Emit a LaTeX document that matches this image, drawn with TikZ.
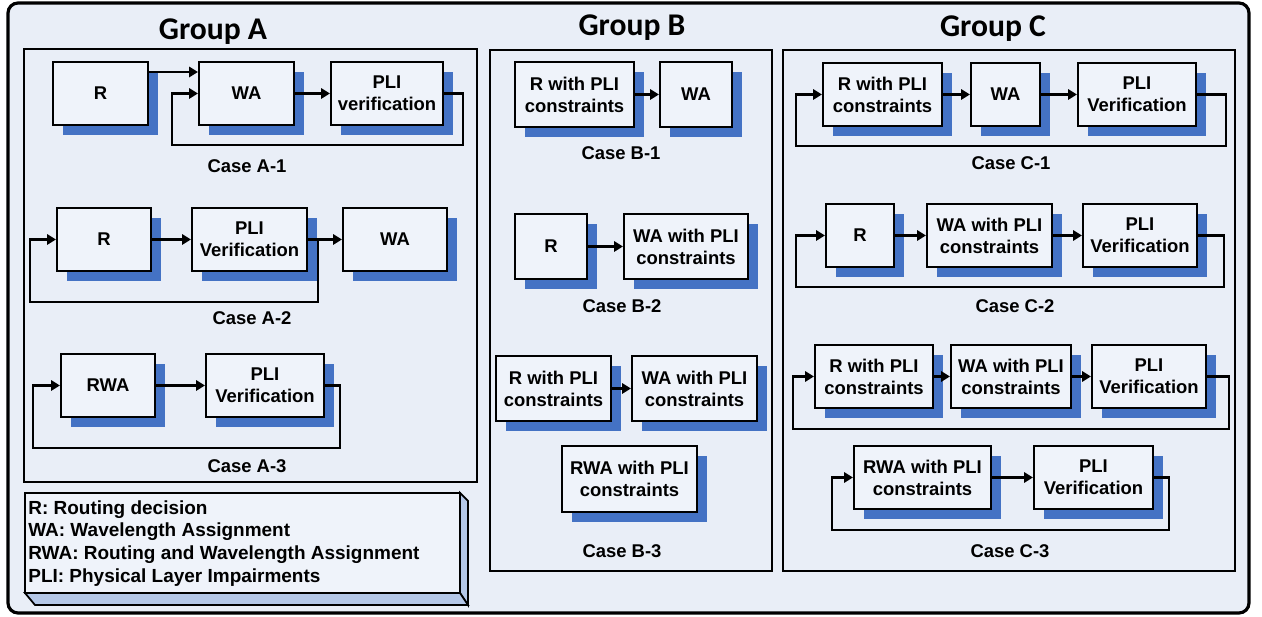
\documentclass[tikz,border=0pt]{standalone}
\usepackage{fontspec}
\setmainfont{Liberation Sans}
\newfontfamily\titlefont{Carlito}
\usetikzlibrary{arrows.meta,calc,shadows}

\definecolor{bgblue}{HTML}{E9EEF7}
\definecolor{boxfill}{HTML}{EFF3FA}
\definecolor{shadowblue}{HTML}{4472C4}
\definecolor{sideblue}{HTML}{B4C7E7}

\begin{document}
\begin{tikzpicture}[x=.02cm,y=-.02cm,
    blk/.style={draw,line width=1.2pt,fill=boxfill,inner sep=0pt,
      minimum height=1.26cm,align=center,
      font=\fontsize{10.5}{12.5}\selectfont\bfseries,
      drop shadow={shadow xshift=.2cm,shadow yshift=-.2cm,
        fill=shadowblue,opacity=1}},
    panel/.style={draw,line width=1.2pt},
    case/.style={anchor=base,inner sep=0pt,
      font=\fontsize{10.5}{12}\selectfont\bfseries},
    grp/.style={anchor=base,inner sep=0pt,
      font=\titlefont\fontsize{18}{20}\selectfont\bfseries},
    legend/.style={anchor=base west,inner sep=0pt,
      font=\fontsize{10.8}{13}\selectfont\bfseries},
    arr/.style={line width=1.4pt,-{Triangle[length=5pt,width=5.8pt]}}]

  \useasboundingbox (0,0) rectangle (1262,617);
  \draw[line width=1.8pt,fill=bgblue,rounded corners=.2cm]
    (8,3) rectangle (1249,613);

  % group frames
  \draw[panel] (24,49) rectangle (477,482);
  \draw[panel] (490,50) rectangle (772,571);
  \draw[panel] (783,50) rectangle (1235,571);

  \node[grp] (GA) at (213,40) {Group A};
  \node[grp] (GB) at (632,36) {Group B};
  \node[grp] (GC) at (993,37) {Group C};

  % Group A
  \node[blk,minimum width=1.9cm] (rA1) at (100.5,93.5) {R};
  \node[blk,minimum width=1.9cm] (waA1) at (246.5,93.5) {WA};
  \node[blk,minimum width=2.24cm] (pvA1) at (387,93.5) {PLI\\verification};
  \node[case] (cA1) at (247,173) {Case A-1};

  \draw[arr] ([yshift=.43cm]rA1.east) -- ([yshift=.43cm]waA1.west);
  \draw[arr] (waA1) -- (pvA1);
  \draw[arr] (pvA1.east) -| ++(19,51.5) -| ($(waA1.west)+(-26,0)$) -- (waA1.west);

  \node[blk,minimum width=1.88cm] (rA2) at (104,239.5) {R};
  \node[blk,minimum width=2.3cm] (pvA2) at (249.5,239.5) {PLI\\Verification};
  \node[blk,minimum width=2.08cm] (waA2) at (395,239.5) {WA};
  \node[case] (cA2) at (252,325) {Case A-2};

  \draw[arr] (rA2) -- (pvA2);
  \draw[arr] (pvA2) -- (waA2);
  \draw[arr] (pvA2.east) -- ++(10,0) -- ++(0,62.5) -| ($(rA2.west)+(-26,0)$) -- (rA2.west);

  \node[blk,minimum width=1.88cm] (rwaA3) at (108,385.5) {RWA};
  \node[blk,minimum width=2.36cm] (pvA3) at (265,385.5) {PLI\\Verification};
  \node[case] (cA3) at (247,473) {Case A-3};

  \draw[arr] (rwaA3) -- (pvA3);
  \draw[arr] (pvA3.east) -| ++(15,62.5) -| ($(rwaA3.west)+(-27,0)$) -- (rwaA3.west);

  % legend
  \draw[fill=sideblue,line width=1pt] (460,493) -- (468,501) -- (468,605) -- (460,593) -- cycle;
  \draw[fill=sideblue,line width=1pt] (25,593) -- (460,593) -- (468,605) -- (35,605) -- cycle;
  \draw[fill=boxfill,line width=1.2pt] (25,493) rectangle (460,593);
  \node[legend] (L1) at (28,515) {R: Routing decision};
  \node[legend] (L2) at (28,537) {WA: Wavelength Assignment};
  \node[legend] (L3) at (28,560) {RWA: Routing and Wavelength Assignment};
  \node[legend] (L4) at (28,583) {PLI: Physical Layer Impairments};

  % Group B
  \node[blk,minimum width=2.38cm,minimum height=1.3cm] (rB1) at (574.5,94.5) {R with PLI\\constraints};
  \node[blk,minimum width=1.44cm,minimum height=1.3cm] (waB1) at (696,94.5) {WA};
  \node[case] (cB1) at (621,160) {Case B-1};
  \draw[arr] (rB1) -- (waB1);

  \node[blk,minimum width=1.44cm,minimum height=1.3cm] (rB2) at (551,246.5) {R};
  \node[blk,minimum width=2.48cm,minimum height=1.3cm] (waB2) at (686,246.5) {WA with PLI\\constraints};
  \node[case] (cB2) at (622,313) {Case B-2};
  \draw[arr] (rB2) -- (waB2);

  \node[blk,minimum width=2.3cm,minimum height=1.3cm] (rB3) at (553.5,388.5) {R with PLI\\constraints};
  \node[blk,minimum width=2.5cm,minimum height=1.3cm] (waB3) at (694.5,388.5) {WA with PLI\\constraints};
  \node[blk,minimum width=2.7cm,minimum height=1.32cm] (rwaB3) at (629.5,479) {RWA with PLI\\constraints};
  \node[case] (cB3) at (622,558) {Case B-3};
  \draw[arr] (rB3) -- (waB3);

  % Group C
  \node[blk,minimum width=2.38cm] (rC1) at (882.5,94.5) {R with PLI\\constraints};
  \node[blk,minimum width=1.38cm] (waC1) at (1005.5,94.5) {WA};
  \node[blk,minimum width=2.36cm] (pvC1) at (1137,94.5) {PLI\\Verification};
  \node[case] (cC1) at (1011,170) {Case C-1};

  \draw[arr] (rC1) -- (waC1);
  \draw[arr] (waC1) -- (pvC1);
  \draw[arr] (pvC1.east) -| ++(29,51.5) -| ($(rC1.west)+(-26,0)$) -- (rC1.west);

  \node[blk,minimum width=1.36cm] (rC2) at (860,235.5) {R};
  \node[blk,minimum width=2.5cm] (waC2) at (989.5,235.5) {WA with PLI\\constraints};
  \node[blk,minimum width=2.28cm] (pvC2) at (1140,235.5) {PLI\\Verification};
  \node[case] (cC2) at (1015,313) {Case C-2};

  \draw[arr] (rC2) -- (waC2);
  \draw[arr] (waC2) -- (pvC2);
  \draw[arr] (pvC2.east) -| ++(26,51.5) -| ($(rC2.west)+(-29,0)$) -- (rC2.west);

  \node[blk,minimum width=2.36cm] (rC3) at (874,376.5) {R with PLI\\constraints};
  \node[blk,minimum width=2.4cm] (waC3) at (1011,376.5) {WA with PLI\\constraints};
  \node[blk,minimum width=2.28cm] (pvC3) at (1149,376.5) {PLI\\Verification};

  \draw[arr] (rC3) -- (waC3);
  \draw[arr] (waC3) -- (pvC3);
  \draw[arr] (pvC3.east) -| ++(22,52.5) -| ($(rC3.west)+(-21,0)$) -- (rC3.west);

  \node[blk,minimum width=2.74cm] (rwaC3) at (922.5,477.5) {RWA with PLI\\constraints};
  \node[blk,minimum width=2.38cm] (pvC3b) at (1093.5,477.5) {PLI\\Verification};
  \node[case] (cC3) at (1010,558) {Case C-3};

  \draw[arr] (rwaC3) -- (pvC3b);
  \draw[arr] (pvC3b.east) -| ++(15,52.5) -| ($(rwaC3.west)+(-21,0)$) -- (rwaC3.west);

\end{tikzpicture}
\end{document}
